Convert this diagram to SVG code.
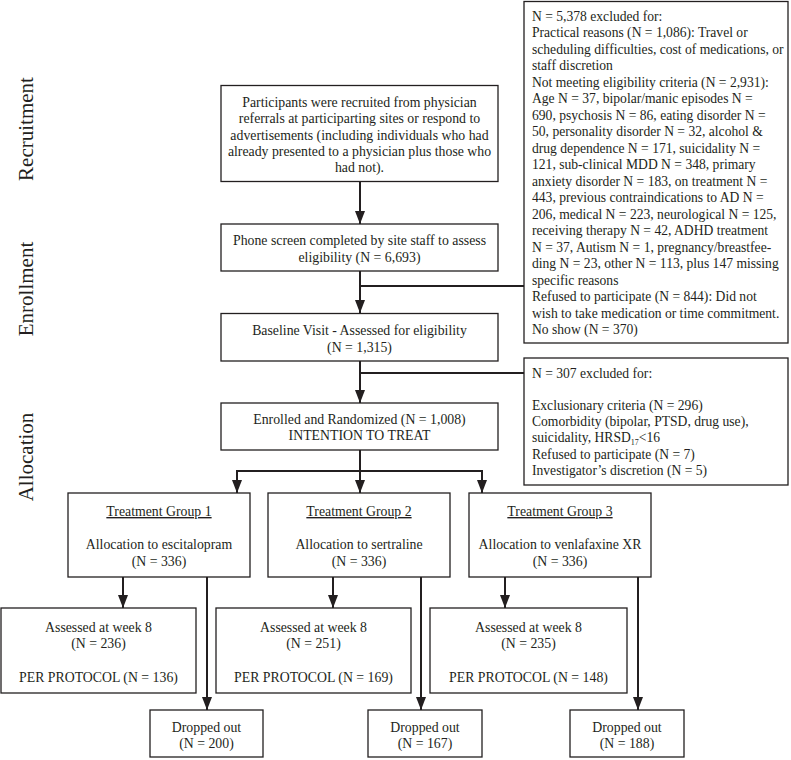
<svg xmlns="http://www.w3.org/2000/svg" width="791" height="760" viewBox="0 0 791 760">
<style>
  .box { fill: #ffffff; stroke: #231f20; stroke-width: 1.3; }
  .t { font-family: "Liberation Serif", "Times New Roman", serif; font-size: 13.8px; fill: #231f20; text-anchor: middle; }
  .tl { font-family: "Liberation Serif", "Times New Roman", serif; font-size: 13.6px; fill: #231f20; text-anchor: start; }
  .side { font-family: "Liberation Serif", "Times New Roman", serif; font-size: 21px; fill: #231f20; text-anchor: middle; }
  .c { fill: none; stroke: #231f20; stroke-width: 2; }
  .ca { fill: none; stroke: #231f20; stroke-width: 2; marker-end: url(#ah); }
</style>
<defs>
  <marker id="ah" viewBox="0 0 13 10" refX="13" refY="5" markerWidth="13" markerHeight="10" markerUnits="userSpaceOnUse" orient="auto">
    <path d="M0,0 L13,5 L0,10 z" fill="#231f20"/>
  </marker>
</defs>
<rect width="791" height="760" fill="#ffffff"/>

<g id="labels">
  <text class="side" transform="translate(33,129) rotate(-90)">Recruitment</text>
  <text class="side" transform="translate(33,289) rotate(-90)">Enrollment</text>
  <text class="side" transform="translate(33,457) rotate(-90)">Allocation</text>
</g>

<g id="connectors">
  <line class="ca" x1="360" y1="181" x2="360" y2="224"/>
  <line class="ca" x1="360" y1="271" x2="360" y2="313"/>
  <line class="c" x1="360" y1="286" x2="524" y2="286"/>
  <line class="ca" x1="360" y1="361" x2="360" y2="403"/>
  <line class="c" x1="360" y1="373" x2="524" y2="373"/>
  <line class="ca" x1="360" y1="450" x2="360" y2="493"/>
  <polyline class="ca" points="360,471 237,471 237,493"/>
  <polyline class="ca" points="360,471 482,471 482,493"/>
  <line class="ca" x1="123" y1="577" x2="123" y2="608"/>
  <line class="ca" x1="207" y1="577" x2="207" y2="710"/>
  <line class="ca" x1="333" y1="577" x2="333" y2="608"/>
  <line class="ca" x1="421" y1="577" x2="421" y2="710"/>
  <line class="ca" x1="505" y1="577" x2="505" y2="608"/>
  <line class="ca" x1="638" y1="577" x2="638" y2="710"/>
</g>

<g id="recruit">
  <rect class="box" x="221" y="85.5" width="277" height="96"/>
  <text class="t" x="359.5" y="107">Participants were recruited from physician</text>
  <text class="t" x="359.5" y="123.3">referrals at participarting sites or respond to</text>
  <text class="t" x="359.5" y="139.6">advertisements (including individuals who had</text>
  <text class="t" x="359.5" y="155.9">already presented to a physician plus those who</text>
  <text class="t" x="359.5" y="172.2">had not).</text>
</g>

<g id="phone">
  <rect class="box" x="221" y="224" width="277" height="47"/>
  <text class="t" x="359.5" y="245">Phone screen completed by site staff to assess</text>
  <text class="t" x="359.5" y="261.5">eligibility (N = 6,693)</text>
</g>

<g id="baseline">
  <rect class="box" x="221" y="313.5" width="277" height="47.5"/>
  <text class="t" x="359.5" y="335">Baseline Visit - Assessed for eligibility</text>
  <text class="t" x="359.5" y="351.5">(N = 1,315)</text>
</g>

<g id="enrolled">
  <rect class="box" x="221" y="403" width="277" height="47"/>
  <text class="t" x="359.5" y="424">Enrolled and Randomized (N = 1,008)</text>
  <text class="t" x="359.5" y="440">INTENTION TO TREAT</text>
</g>

<g id="excl1">
  <rect class="box" x="524" y="1.5" width="264" height="341.5"/>
  <text class="tl" x="532" y="20.5">N = 5,378 excluded for:</text>
  <text class="tl" x="532" y="37">Practical reasons (N = 1,086): Travel or</text>
  <text class="tl" x="532" y="53.5">scheduling difficulties, cost of medications, or</text>
  <text class="tl" x="532" y="70">staff discretion</text>
  <text class="tl" x="532" y="86.5">Not meeting eligibility criteria (N = 2,931):</text>
  <text class="tl" x="532" y="103">Age N = 37, bipolar/manic episodes N =</text>
  <text class="tl" x="532" y="119.5">690, psychosis N = 86, eating disorder N =</text>
  <text class="tl" x="532" y="136">50, personality disorder N = 32, alcohol &amp;</text>
  <text class="tl" x="532" y="152.5">drug dependence N = 171, suicidality N =</text>
  <text class="tl" x="532" y="169">121, sub-clinical MDD N = 348, primary</text>
  <text class="tl" x="532" y="185.5">anxiety disorder N = 183, on treatment N =</text>
  <text class="tl" x="532" y="202">443, previous contraindications to AD N =</text>
  <text class="tl" x="532" y="218.5">206, medical N = 223, neurological N = 125,</text>
  <text class="tl" x="532" y="235">receiving therapy N = 42, ADHD treatment</text>
  <text class="tl" x="532" y="251.5">N = 37, Autism N = 1, pregnancy/breastfee-</text>
  <text class="tl" x="532" y="268">ding N = 23, other N = 113, plus 147 missing</text>
  <text class="tl" x="532" y="284.5">specific reasons</text>
  <text class="tl" x="532" y="301">Refused to participate (N = 844): Did not</text>
  <text class="tl" x="532" y="317.5">wish to take medication or time commitment.</text>
  <text class="tl" x="532" y="334">No show (N = 370)</text>
</g>

<g id="excl2">
  <rect class="box" x="524" y="358" width="264" height="127"/>
  <text class="tl" x="532" y="377.5">N = 307 excluded for:</text>
  <text class="tl" x="532" y="409.9">Exclusionary criteria (N = 296)</text>
  <text class="tl" x="532" y="426.1">Comorbidity (bipolar, PTSD, drug use),</text>
  <text class="tl" x="532" y="442.3">suicidality, HRSD<tspan font-size="8" dy="3">17</tspan><tspan dy="-3">&lt;16</tspan></text>
  <text class="tl" x="532" y="458.5">Refused to participate (N = 7)</text>
  <text class="tl" x="532" y="474.7">Investigator’s discretion (N = 5)</text>
</g>

<g id="tg1">
  <rect class="box" x="68" y="493" width="182" height="84"/>
  <text class="t" x="159" y="516" text-decoration="underline">Treatment Group 1</text>
  <text class="t" x="159" y="549">Allocation to escitalopram</text>
  <text class="t" x="159" y="565.5">(N = 336)</text>
</g>
<g id="tg2">
  <rect class="box" x="268" y="493" width="182" height="84"/>
  <text class="t" x="359" y="516" text-decoration="underline">Treatment Group 2</text>
  <text class="t" x="359" y="549">Allocation to sertraline</text>
  <text class="t" x="359" y="565.5">(N = 336)</text>
</g>
<g id="tg3">
  <rect class="box" x="469" y="493" width="182" height="84"/>
  <text class="t" x="560" y="516" text-decoration="underline">Treatment Group 3</text>
  <text class="t" x="560" y="549">Allocation to venlafaxine XR</text>
  <text class="t" x="560" y="565.5">(N = 336)</text>
</g>

<g id="assess1">
  <rect class="box" x="1" y="608" width="195" height="85"/>
  <text class="t" x="98.5" y="632">Assessed at week 8</text>
  <text class="t" x="98.5" y="648">(N = 236)</text>
  <text class="t" x="98.5" y="682">PER PROTOCOL (N = 136)</text>
</g>
<g id="assess2">
  <rect class="box" x="216" y="608" width="195" height="85"/>
  <text class="t" x="313.5" y="632">Assessed at week 8</text>
  <text class="t" x="313.5" y="648">(N = 251)</text>
  <text class="t" x="313.5" y="682">PER PROTOCOL (N = 169)</text>
</g>
<g id="assess3">
  <rect class="box" x="430" y="608" width="197" height="85"/>
  <text class="t" x="528.5" y="632">Assessed at week 8</text>
  <text class="t" x="528.5" y="648">(N = 235)</text>
  <text class="t" x="528.5" y="682">PER PROTOCOL (N = 148)</text>
</g>

<g id="drop1">
  <rect class="box" x="150" y="710" width="113" height="47"/>
  <text class="t" x="206.5" y="732">Dropped out</text>
  <text class="t" x="206.5" y="748">(N = 200)</text>
</g>
<g id="drop2">
  <rect class="box" x="368" y="710" width="114" height="47"/>
  <text class="t" x="425" y="732">Dropped out</text>
  <text class="t" x="425" y="748">(N = 167)</text>
</g>
<g id="drop3">
  <rect class="box" x="570" y="710" width="114" height="47"/>
  <text class="t" x="627" y="732">Dropped out</text>
  <text class="t" x="627" y="748">(N = 188)</text>
</g>
</svg>
